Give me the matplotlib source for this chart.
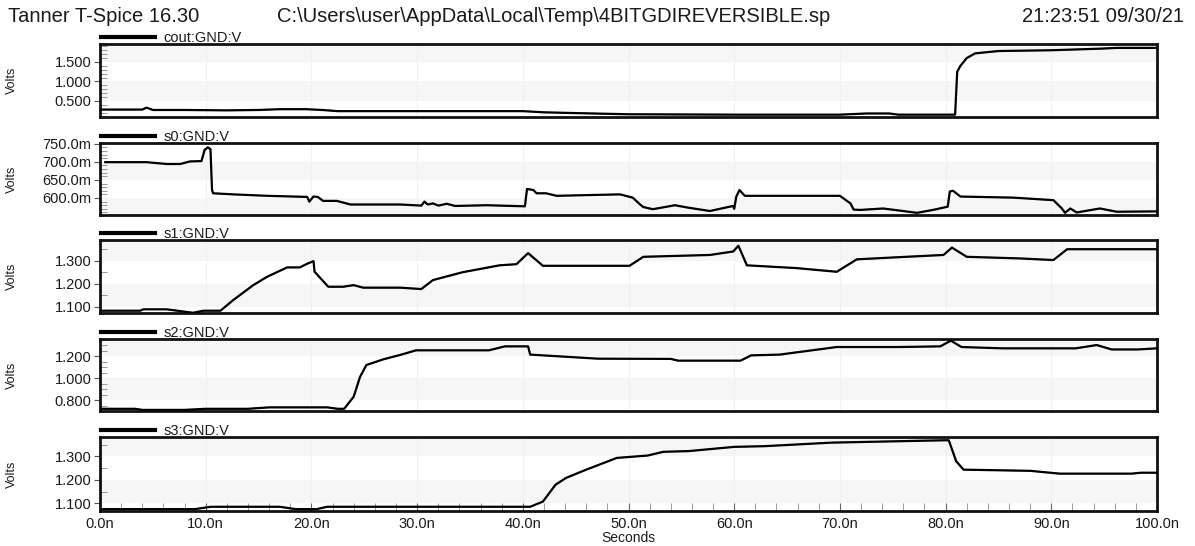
import matplotlib
matplotlib.use("Agg")
import matplotlib.pyplot as plt
from matplotlib.ticker import FixedLocator, FuncFormatter, MultipleLocator

plt.rcParams['font.family'] = ['Liberation Sans', 'DejaVu Sans']

# ---------------- data (time in ns, volts) ----------------
header_left = "Tanner T-Spice 16.30"
header_path = "C:\\Users\\user\\AppData\\Local\\Temp\\4BITGDIREVERSIBLE.sp"
header_time = "21:23:51 09/30/21"

series_names = ["cout:GND:V", "s0:GND:V", "s1:GND:V", "s2:GND:V", "s3:GND:V"]

cout_t = [0, 4.0, 4.4, 5.0, 8, 12, 15, 17, 19.5, 21, 22.5, 30, 40, 42, 45, 50,
          60, 70, 72.5, 74.7, 75.5, 80.9, 81.1, 81.4, 82.0, 82.8, 85, 90, 94.6, 96.2, 100]
cout_v = [0.28, 0.28, 0.33, 0.27, 0.27, 0.26, 0.27, 0.29, 0.29, 0.27, 0.24, 0.24, 0.24, 0.21, 0.19, 0.16,
          0.15, 0.15, 0.18, 0.18, 0.15, 0.15, 1.25, 1.40, 1.60, 1.72, 1.78, 1.80, 1.84, 1.86, 1.86]

s0_t = [0.5, 4.4, 6.3, 7.6, 8.5, 9.6, 9.9, 10.2, 10.45, 10.6, 10.7, 12.6, 15.8, 19.6, 19.8, 20.2, 20.6,
        21.1, 22.4, 23.7, 28.4, 30.4, 30.7, 31.0, 31.5, 32.0, 32.8, 33.6, 36.6, 40.2, 40.4, 41.0,
        41.3, 42.2, 43.2, 49.2, 50.4, 51.1, 51.4, 52.3, 54.4, 55.5, 57.7, 59.9, 60.0, 60.2, 60.5,
        61.0, 66.2, 70.0, 71.0, 71.3, 71.9, 74.1, 77.3, 78.8, 80.2, 80.4, 80.7, 81.4, 86.4, 90.2,
        91.0, 91.3, 91.8, 92.4, 94.6, 96.2, 100.0]
s0_v = [0.699, 0.699, 0.694, 0.694, 0.701, 0.702, 0.733, 0.740, 0.735, 0.622, 0.613, 0.610, 0.606, 0.603,
        0.590, 0.604, 0.603, 0.592, 0.592, 0.582, 0.582, 0.579, 0.590, 0.582, 0.585, 0.579, 0.584,
        0.578, 0.580, 0.577, 0.625, 0.622, 0.613, 0.613, 0.606, 0.610, 0.601, 0.582, 0.575, 0.569,
        0.580, 0.574, 0.564, 0.578, 0.570, 0.604, 0.622, 0.606, 0.606, 0.606, 0.585, 0.568, 0.567,
        0.571, 0.559, 0.567, 0.576, 0.618, 0.620, 0.604, 0.601, 0.594, 0.571, 0.559, 0.571, 0.560,
        0.571, 0.562, 0.563]

s1_t = [0, 3.8, 4.1, 6.3, 8.8, 9.8, 11.4, 12.6, 14.5, 15.8, 17.7, 18.9, 19.7, 20.2, 20.3, 21.6, 23.0,
        24.0, 24.9, 28.4, 30.4, 31.5, 34.3, 37.8, 39.4, 40.5, 41.9, 50.1, 51.4, 57.7, 59.9, 60.4,
        61.2, 65.9, 69.7, 71.6, 75.4, 79.8, 80.6, 82.0, 87.0, 90.2, 91.5, 100.0]
s1_v = [1.083, 1.083, 1.089, 1.089, 1.074, 1.083, 1.083, 1.129, 1.194, 1.230, 1.271, 1.271, 1.289,
        1.298, 1.252, 1.187, 1.187, 1.194, 1.183, 1.183, 1.177, 1.216, 1.250, 1.280, 1.285, 1.333,
        1.278, 1.278, 1.317, 1.325, 1.340, 1.365, 1.280, 1.268, 1.252, 1.306, 1.315, 1.325, 1.357,
        1.317, 1.310, 1.303, 1.350, 1.350]

s2_t = [0, 3.3, 4.0, 8.0, 10, 14, 16, 21.5, 22.5, 23.1, 24.0, 24.6, 25.2, 26.8, 28.4, 29.9, 36.8,
        38.3, 40.5, 40.7, 47.1, 54.0, 54.7, 60.6, 61.6, 64.3, 69.7, 75.6, 79.5, 80.5, 81.5, 85.4,
        92.3, 94.3, 95.7, 98.2, 100.0]
s2_v = [0.72, 0.72, 0.71, 0.71, 0.72, 0.72, 0.733, 0.733, 0.72, 0.72, 0.83, 1.01, 1.118, 1.17, 1.21,
        1.252, 1.252, 1.288, 1.288, 1.213, 1.176, 1.174, 1.158, 1.158, 1.206, 1.213, 1.282, 1.282,
        1.288, 1.34, 1.282, 1.27, 1.27, 1.30, 1.26, 1.26, 1.27]

s3_t = [0, 9.0, 10.5, 17.0, 18.5, 20.5, 21.5, 40.7, 41.9, 43.1, 44.1, 46.0, 48.9, 51.8, 53.3, 55.7,
        60.0, 62.9, 69.2, 79.8, 80.3, 81.0, 81.7, 88.0, 90.8, 97.6, 98.5, 100.0]
s3_v = [1.075, 1.075, 1.085, 1.085, 1.075, 1.075, 1.085, 1.085, 1.107, 1.179, 1.208, 1.243, 1.293,
        1.303, 1.319, 1.322, 1.340, 1.343, 1.358, 1.368, 1.368, 1.279, 1.243, 1.238, 1.226, 1.226,
        1.230, 1.230]

y_ticks = [[0.5, 1.0, 1.5], [0.60, 0.65, 0.70, 0.75], [1.1, 1.2, 1.3], [0.8, 1.0, 1.2], [1.1, 1.2, 1.3]]
y_limits = [(0.09, 1.96), (0.553, 0.752), (1.073, 1.39), (0.70, 1.355), (1.067, 1.382)]
y_minor = [0.1, 0.01, 0.05, 0.05, 0.05]
x_ticks = [0, 10, 20, 30, 40, 50, 60, 70, 80, 90, 100]

all_t = [cout_t, s0_t, s1_t, s2_t, s3_t]
all_v = [cout_v, s0_v, s1_v, s2_v, s3_v]

# ---------------- layout ----------------
W, H = 1195, 546
fig = plt.figure(figsize=(W / 100, H / 100), dpi=100)
fig.patch.set_facecolor('white')

panel_px = [(44, 117), (143, 215), (240, 313), (339, 411), (437, 511)]
left_px, right_px = 100, 1157

txt_col = '#1a1a1a'
fig.text(8 / W, 1 - 16 / H, header_left, fontsize=14.5, color=txt_col, va='center', ha='left')
fig.text(277 / W, 1 - 16 / H, header_path, fontsize=14.5, color=txt_col, va='center', ha='left')
fig.text(1184 / W, 1 - 16 / H, header_time, fontsize=14.5, color=txt_col, va='center', ha='right')


def fmt_for(i):
    if i == 1:
        return FuncFormatter(lambda v, p: f"{v * 1000:.1f}m")
    return FuncFormatter(lambda v, p: f"{v:.3f}")


axes = []
for i in range(5):
    top, bot = panel_px[i]
    rect = [left_px / W, 1 - bot / H, (right_px - left_px) / W, (bot - top) / H]
    ax = fig.add_axes(rect)
    axes.append(ax)
    lo, hi = y_limits[i]
    ax.set_xlim(0, 100)
    ax.set_ylim(lo, hi)

    # alternating light bands between major ticks
    edges = [lo] + list(y_ticks[i]) + [hi]
    n = len(edges) - 1
    for k in range(n):
        idx_from_top = n - 1 - k
        col = '#f6f6f6' if idx_from_top % 2 == 0 else 'white'
        ax.axhspan(edges[k], edges[k + 1], color=col, zorder=0, lw=0)
    for xv in x_ticks[1:-1]:
        ax.axvline(xv, color='#f1f1f1', lw=0.8, zorder=0.5)

    ax.plot(all_t[i], all_v[i], color='#a0a0a0', lw=1.0, zorder=2)
    ax.plot(all_t[i], all_v[i], color='black', lw=1.6, zorder=3, label=series_names[i])

    for sp in ax.spines.values():
        sp.set_linewidth(2.0)
        sp.set_color('#111111')

    ax.yaxis.set_major_locator(FixedLocator(y_ticks[i]))
    ax.yaxis.set_minor_locator(MultipleLocator(y_minor[i]))
    ax.yaxis.set_major_formatter(fmt_for(i))
    ax.tick_params(axis='y', which='major', direction='out', length=4, width=0.8,
                   colors='#555555', labelcolor=txt_col, labelsize=10.5, pad=2)
    ax.tick_params(axis='y', which='minor', direction='in', length=5, width=0.6, colors='#888888')
    ax.set_ylabel("Volts", fontsize=9, color=txt_col)
    ax.yaxis.set_label_coords(-0.078, 0.5)

    ax.xaxis.set_major_locator(FixedLocator(x_ticks))
    ax.xaxis.set_minor_locator(MultipleLocator(2))
    if i < 4:
        ax.tick_params(axis='x', which='both', bottom=False, labelbottom=False)
    else:
        ax.xaxis.set_major_formatter(FuncFormatter(lambda v, p: f"{v:.1f}n"))
        ax.tick_params(axis='x', which='major', direction='in', length=6, width=0.8,
                       colors='#666666', labelcolor=txt_col, labelsize=10.5, pad=4)
        ax.tick_params(axis='x', which='minor', direction='in', length=6, width=0.6, colors='#888888')
        ax.set_xlabel("Seconds", fontsize=10, color=txt_col, labelpad=0)

    leg = ax.legend(loc='lower left', bbox_to_anchor=(0, 0.98), frameon=False, fontsize=10.5,
                    handlelength=3.7, handletextpad=0.6, borderpad=0.05, borderaxespad=0.0)
    for h in leg.legend_handles:
        h.set_linewidth(3.0)
    for t in leg.get_texts():
        t.set_color(txt_col)

fig.savefig("out.png", dpi=100, facecolor='white')
